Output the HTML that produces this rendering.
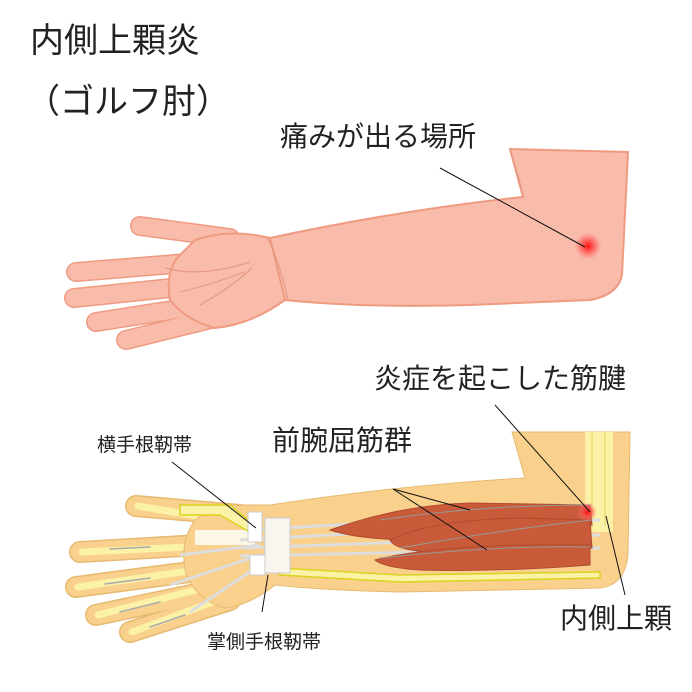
<!DOCTYPE html>
<html><head><meta charset="utf-8"><style>
html,body{margin:0;padding:0;background:#fff;}
svg{display:block;}
text{font-family:"Liberation Sans","Noto Sans CJK JP",sans-serif;fill:#222;}
</style></head><body>
<svg width="692" height="692" viewBox="0 0 692 692" xmlns="http://www.w3.org/2000/svg">
<defs>
<radialGradient id="pain"><stop offset="0" stop-color="#ff1010"/><stop offset="0.5" stop-color="#ff5050" stop-opacity="0.7"/><stop offset="1" stop-color="#ff8080" stop-opacity="0"/></radialGradient>
</defs>
<text x="30" y="52" font-size="34">内側上顆炎</text>
<text x="26" y="113" font-size="34">（ゴルフ肘）</text>
<text x="280" y="146" font-size="28">痛みが出る場所</text>

<!-- top arm fingers -->
<g stroke-linecap="round" fill="none">
<g stroke="#ef9b82" stroke-width="20">
<line x1="200" y1="262" x2="76" y2="272"/><line x1="200" y1="285" x2="74" y2="298"/><line x1="205" y1="305" x2="96" y2="322"/><line x1="215" y1="318" x2="126" y2="340"/><line x1="230" y1="238" x2="140" y2="226"/>
</g>
<g stroke="#f9bcaa" stroke-width="17">
<line x1="200" y1="262" x2="76" y2="272"/><line x1="200" y1="285" x2="74" y2="298"/><line x1="205" y1="305" x2="96" y2="322"/><line x1="215" y1="318" x2="126" y2="340"/><line x1="230" y1="238" x2="140" y2="226"/>
</g>
</g>
<g fill="#f9bcaa" stroke="#ef9b82" stroke-width="2">
<path d="M510,149 L628,152 L622,275 Q618,295 590,300 L470,305 Q360,308 285,300 L270,238 Q400,210 523,197 Z"/>
<path d="M285,300 Q250,325 215,328 Q185,320 170,300 Q165,270 180,255 Q190,245 195,240 Q230,228 270,238 Z"/>
</g>
<path d="M510,149 Q520,180 523,197 M268,238 Q282,270 288,300 M165,268 Q200,278 250,262 M180,292 Q210,285 245,272 M200,305 Q230,288 252,268" stroke="#e59a85" stroke-width="1.2" fill="none"/>
<circle cx="588" cy="246" r="14" fill="url(#pain)"/>
<line x1="440" y1="168" x2="585" y2="247" stroke="#111" stroke-width="1"/>

<!-- bottom arm -->
<text x="374" y="388" font-size="28">炎症を起こした筋腱</text>
<text x="272" y="450" font-size="28">前腕屈筋群</text>
<text x="97" y="451" font-size="19">横手根靭帯</text>
<text x="207" y="648" font-size="19">掌側手根靭帯</text>
<text x="560" y="628" font-size="28">内側上顆</text>

<g stroke-linecap="round" fill="none">
<g stroke="#e6ba70" stroke-width="22">
<line x1="200" y1="545" x2="80" y2="552"/><line x1="205" y1="570" x2="76" y2="587"/><line x1="215" y1="590" x2="96" y2="615"/><line x1="230" y1="600" x2="130" y2="632"/><line x1="240" y1="515" x2="136" y2="506"/>
</g>
<g stroke="#f9d08c" stroke-width="19">
<line x1="200" y1="545" x2="80" y2="552"/><line x1="205" y1="570" x2="76" y2="587"/><line x1="215" y1="590" x2="96" y2="615"/><line x1="230" y1="600" x2="130" y2="632"/><line x1="240" y1="515" x2="136" y2="506"/>
</g>
<g stroke="#fbf2a8" stroke-width="7">
<line x1="230" y1="545" x2="82" y2="552"/><line x1="230" y1="565" x2="78" y2="587"/><line x1="235" y1="580" x2="98" y2="615"/><line x1="245" y1="590" x2="132" y2="632"/><line x1="250" y1="525" x2="138" y2="506"/>
</g>
<g stroke="#aaa" stroke-width="1.5">
<line x1="110" y1="549" x2="150" y2="547"/><line x1="105" y1="584" x2="150" y2="578"/><line x1="120" y1="612" x2="160" y2="602"/><line x1="150" y1="627" x2="185" y2="615"/>
</g>
</g>
<g fill="#f9d08c" stroke="#e6ba70" stroke-width="1">
<path d="M512,432 L630,432 L628,555 Q625,585 600,588 L400,592 Q320,590 275,585 Q250,605 225,608 Q195,600 185,570 Q180,540 195,520 Q215,505 240,505 L270,505 Q400,485 525,478 Z"/>
</g>
<rect x="585" y="432" width="28" height="100" fill="#fbf2a8"/>
<path d="M605,432 L605,525 M592,432 L592,530" stroke="#e6d460" stroke-width="1"/>
<g fill="#fbf2a8" stroke="#d9d320" stroke-width="1.5">
<path d="M195,530 L255,530 L255,545 L195,545 Z" fill="#fdf8e6" stroke="none"/>
<path d="M280,575 L400,582 L600,578 L600,572 L400,575 L280,568 Z"/>
<path d="M180,505 L230,505 L260,530 L255,535 L220,515 L180,515 Z"/>
</g>
<g stroke="#dddddd" stroke-width="3" fill="none">
<path d="M240,540 L600,520"/><path d="M245,548 L600,535"/><path d="M240,556 L600,548"/><path d="M250,530 L420,520"/>
<path d="M180,555 L260,545 M170,585 L260,555 M190,612 L260,565"/>
</g>
<g fill="#c95b3b" stroke="#b04a30" stroke-width="1">
<path d="M330,530 Q400,505 470,503 L590,505 L592,525 Q500,540 420,540 Q360,540 330,530 Z"/>
<path d="M390,540 Q430,520 520,518 L590,520 L592,548 Q500,555 430,552 Q395,550 390,540 Z"/>
<path d="M375,560 Q420,548 520,545 L590,545 L590,565 Q500,572 420,570 Q385,568 375,560 Z"/>
</g>
<path d="M380,520 Q480,505 590,505 M400,548 Q500,530 592,520 M380,558 Q500,545 590,547" stroke="#999" stroke-width="1" fill="none"/>
<circle cx="587" cy="512" r="10" fill="url(#pain)"/>
<rect x="248" y="512" width="14" height="30" fill="#fff" stroke="#ccc"/>
<rect x="265" y="518" width="25" height="55" fill="#f8f6ee" stroke="#ccc"/>
<rect x="250" y="555" width="15" height="20" fill="#fff" stroke="#ccc"/>
<g stroke="#111" stroke-width="1" fill="none">
<line x1="172" y1="462" x2="256" y2="528"/>
<line x1="268" y1="575" x2="262" y2="612"/>
<line x1="393" y1="489" x2="470" y2="510"/>
<line x1="393" y1="489" x2="487" y2="550"/>
<line x1="495" y1="405" x2="590" y2="512"/>
<line x1="606" y1="516" x2="625" y2="595"/>
</g>
</svg>
</body></html>
